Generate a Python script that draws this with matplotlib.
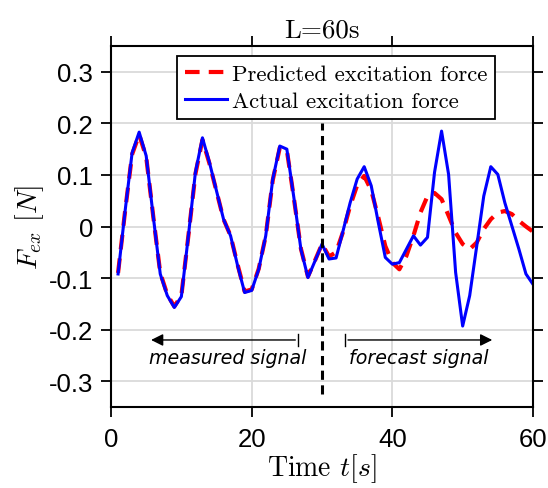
import numpy as np
import matplotlib
matplotlib.use('Agg')
from matplotlib import pyplot as plt

plt.rcParams['mathtext.fontset'] = 'cm'
plt.rcParams['axes.unicode_minus'] = False

# time samples [s]
t = np.arange(1, 61)

# actual excitation force [N]
actual = [-0.092, 0.030, 0.143, 0.183, 0.137, 0.020, -0.092, -0.134, -0.157, -0.136,
          -0.018, 0.105, 0.172, 0.124, 0.069, 0.014, -0.018, -0.076, -0.128, -0.124,
          -0.083, -0.018, 0.092, 0.156, 0.150, 0.056, -0.044, -0.099, -0.067, -0.034,
          -0.063, -0.061, -0.008, 0.046, 0.092, 0.116, 0.079, 0.008, -0.060, -0.073,
          -0.070, -0.044, -0.018, -0.036, -0.021, 0.105, 0.185, 0.101, -0.089, -0.193,
          -0.134, -0.038, 0.059, 0.116, 0.101, 0.046, 0.001, -0.044, -0.092, -0.112]

# predicted excitation force [N]
predicted = [-0.090, 0.030, 0.140, 0.178, 0.135, 0.020, -0.090, -0.132, -0.155, -0.134,
             -0.018, 0.102, 0.168, 0.122, 0.068, 0.014, -0.018, -0.074, -0.126, -0.122,
             -0.082, -0.018, 0.090, 0.153, 0.148, 0.055, -0.043, -0.097, -0.066, -0.034,
             -0.058, -0.050, -0.010, 0.040, 0.080, 0.098, 0.070, 0.018, -0.038, -0.070,
             -0.083, -0.057, -0.018, 0.027, 0.059, 0.065, 0.053, 0.021, -0.012, -0.034,
             -0.044, -0.031, -0.005, 0.014, 0.027, 0.030, 0.024, 0.011, 0.000, -0.010]

fig = plt.figure(figsize=(5.48, 4.89), dpi=100)
ax = fig.add_axes([0.2026, 0.1656, 0.77, 0.7383])

ax.grid(True, color='#dadada', lw=1.3)
ax.set_axisbelow(True)

ax.plot(t, predicted, '--', color='red', lw=3, dashes=(3.5, 2.2), label='Predicted excitation force')
ax.plot(t, actual, '-', color='blue', lw=2.2, label='Actual excitation force')
ax.plot([30, 30], [-0.325, 0.2], '--', color='black', lw=2.2, dashes=(3, 1.8))

# measured / forecast arrows
ax.annotate('', xy=(5.3, -0.22), xytext=(26.6, -0.22),
            arrowprops=dict(arrowstyle='-|>', color='black', lw=1, mutation_scale=18))
ax.plot([26.6, 26.6], [-0.232, -0.208], color='black', lw=1)
ax.annotate('', xy=(54.6, -0.22), xytext=(33.3, -0.22),
            arrowprops=dict(arrowstyle='-|>', color='black', lw=1, mutation_scale=18))
ax.plot([33.3, 33.3], [-0.232, -0.208], color='black', lw=1)
ax.text(16.6, -0.254, 'measured signal', ha='center', va='center', style='italic',
        fontsize=13.7, family='DejaVu Sans')
ax.text(43.8, -0.254, 'forecast signal', ha='center', va='center', style='italic',
        fontsize=13.7, family='DejaVu Sans')

ax.set_xlim(0, 60)
ax.set_ylim(-0.35, 0.35)
ax.set_xticks([0, 20, 40, 60])
ax.set_yticks([-0.3, -0.2, -0.1, 0, 0.1, 0.2, 0.3])
ax.set_yticklabels(['-0.3', '-0.2', '-0.1', '0', '0.1', '0.2', '0.3'])
ax.tick_params(direction='out', length=7, width=1.3, top=True, right=True,
               labelsize=18.5)
ax.tick_params(axis='x', pad=7.5)
ax.tick_params(axis='y', pad=6)
for lb in ax.get_xticklabels() + ax.get_yticklabels():
    lb.set_family('Liberation Sans')
for s in ax.spines.values():
    s.set_linewidth(1.5)

ax.set_xlabel('Time $t[s]$', fontsize=20, family='cmr10', labelpad=0)
ax.set_ylabel('$F_{ex}$ $[N]$', fontsize=20, labelpad=2)
ax.set_title('L=60s', fontsize=19.5, family='cmr10', pad=7)

leg = ax.legend(loc='upper right', bbox_to_anchor=(0.91, 0.972), prop={'family': 'cmr10', 'size': 16.4},
                fancybox=False, framealpha=1, edgecolor='black', handlelength=1.85,
                handletextpad=0.2, borderpad=0.35, labelspacing=0.3, borderaxespad=0)
leg.get_frame().set_linewidth(1.3)

plt.savefig('out.png', dpi=100)
